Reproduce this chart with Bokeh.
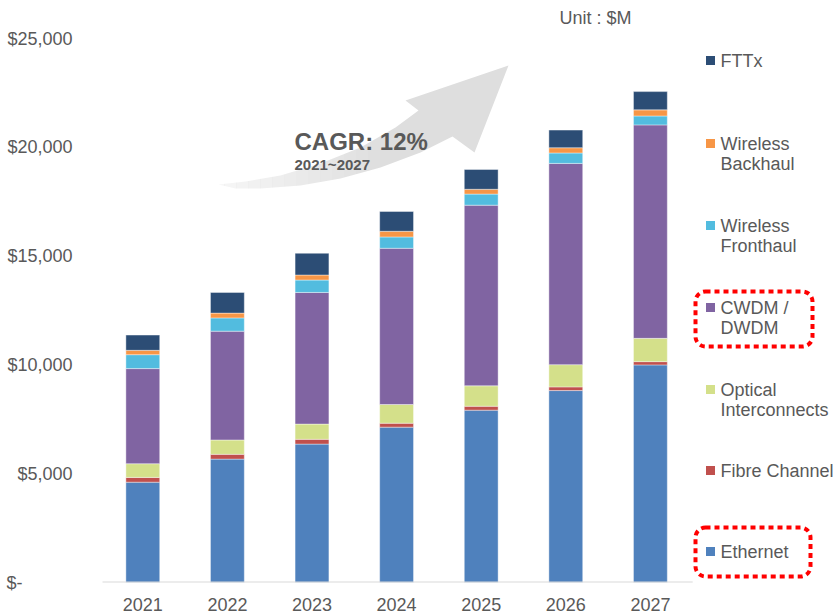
from bokeh.plotting import figure
from bokeh.models import ColumnDataSource, Range1d, FixedTicker, BoxAnnotation
from bokeh.core.properties import value
from bokeh.embed import file_html
from bokeh.resources import INLINE

# ---------------- data ----------------
years = [2021, 2022, 2023, 2024, 2025, 2026, 2027]
x_labels = ["2021", "2022", "2023", "2024", "2025", "2026", "2027"]
ethernet = [4610, 5670, 6360, 7140, 7920, 8820, 10000]
fibre_channel = [220, 220, 220, 180, 180, 170, 150]
optical_interconnects = [630, 660, 700, 860, 940, 1020, 1070]
cwdm_dwdm = [4370, 5000, 6050, 7180, 8300, 9250, 9810]
wireless_fronthaul = [640, 610, 570, 520, 510, 480, 410]
wireless_backhaul = [200, 220, 230, 260, 220, 240, 280]
fttx = [700, 950, 1000, 910, 910, 810, 840]

series_keys = ["ethernet", "fibre", "optical", "cwdm", "fronthaul", "backhaul", "fttx"]
series_colors = ["#4f81bd", "#c0504d", "#d4e08a", "#8064a2", "#52bcdf", "#f79646", "#2c4d75"]

legend_labels = [["FTTx"], ["Wireless", "Backhaul"], ["Wireless", "Fronthaul"],
                 ["CWDM /", "DWDM"], ["Optical", "Interconnects"], ["Fibre Channel"], ["Ethernet"]]
legend_colors = ["#2c4d75", "#f79646", "#52bcdf", "#8064a2", "#d4e08a", "#c0504d", "#4f81bd"]

y_ticks = [0, 5000, 10000, 15000, 20000, 25000]
y_tick_labels = ["$-" + "\u00a0" * 10, "$5,000", "$10,000", "$15,000", "$20,000", "$25,000"]

unit_text = "Unit : $M"
cagr_text = "CAGR: 12%"
cagr_period = "2021~2027"

# ---------------- layout helpers (screen px -> data) ----------------
PX_YEAR = 84.6
PX_K = 21.76
def X(sx):
    return years[0] - 0.5 + (sx - 100) / PX_YEAR
def Y(sy):
    return (582 - sy) * 1000.0 / PX_K

FONT = "Liberation Sans"
GRAY = "#595959"

p = figure(width=838, height=614, output_backend="svg", toolbar_location=None,
           x_range=Range1d(X(100), X(838)), y_range=Range1d(0, Y(0)),
           min_border_left=102, min_border_right=0, min_border_top=0, min_border_bottom=32)
p.x_range = Range1d(X(102), X(838))
p.outline_line_color = None
p.xgrid.grid_line_color = None
p.ygrid.grid_line_color = None
p.background_fill_color = "white"
p.border_fill_color = "white"

# axes
p.yaxis.ticker = FixedTicker(ticks=y_ticks)
p.yaxis.major_label_overrides = dict(zip(y_ticks, y_tick_labels))
p.yaxis.axis_line_color = None
p.yaxis.major_tick_line_color = None
p.yaxis.minor_tick_line_color = None
p.yaxis.major_label_standoff = 24
p.yaxis.major_label_text_font = FONT
p.yaxis.major_label_text_font_size = "18px"
p.yaxis.major_label_text_color = GRAY

p.xaxis.ticker = FixedTicker(ticks=years)
p.xaxis.major_label_overrides = dict(zip(years, x_labels))
p.xaxis.axis_line_color = None
p.xaxis.major_tick_line_color = None
p.xaxis.minor_tick_line_color = None
p.xaxis.major_label_standoff = 9
p.xaxis.major_label_text_font = FONT
p.xaxis.major_label_text_font_size = "18px"
p.xaxis.major_label_text_color = GRAY

# arrow (decorative swoosh)
arrow_pts = [(218, 184), (245, 181), (280, 175), (320, 163), (360, 147), (395, 127), (418, 110),
             (405, 100), (508, 65), (474, 152), (452, 136), (420, 152), (380, 167), (340, 178),
             (300, 185), (260, 188), (235, 188)]
p.patch([X(a) for a, b in arrow_pts], [Y(b) for a, b in arrow_pts],
        fill_color="#dedede", line_color=None)
# fade toward the tail (white veils over the swoosh only)
n_steps = 14
for i in range(n_steps):
    x0 = 212 + i * 12
    a = 0.75 * (1 - i / n_steps)
    p.quad(left=[X(x0)], right=[X(x0 + 12)], top=[Y(60)], bottom=[Y(192)],
           fill_color="white", fill_alpha=a, line_color=None)

# bars
src = ColumnDataSource(dict(x=years, ethernet=ethernet, fibre=fibre_channel,
                            optical=optical_interconnects, cwdm=cwdm_dwdm,
                            fronthaul=wireless_fronthaul, backhaul=wireless_backhaul, fttx=fttx))
p.vbar_stack(series_keys, x="x", width=0.4, color=series_colors, source=src,
             line_color="white", line_width=0.8, line_alpha=0.5)

# baseline
p.segment(x0=[years[0] - 0.5], y0=[0], x1=[years[-1] + 0.5], y1=[0],
          line_color="#d9d9d9", line_width=2)

# texts
p.text(x=[X(294)], y=[Y(141)], text=[cagr_text], text_font=value(FONT), text_font_size="24px",
       text_font_style="bold", text_color=GRAY, text_baseline="middle", text_align="left")
p.text(x=[X(294)], y=[Y(164)], text=[cagr_period], text_font=value(FONT), text_font_size="15px",
       text_font_style="bold", text_color=GRAY, text_baseline="middle", text_align="left")
p.text(x=[X(559)], y=[Y(17)], text=[unit_text], text_font=value(FONT), text_font_size="18px",
       text_color=GRAY, text_baseline="middle", text_align="left")

# legend (manual)
legend_y = [60, 143, 225, 307, 389, 470, 551]
lx, ly, lt = [], [], []
for lines, sy in zip(legend_labels, legend_y):
    for i, line in enumerate(lines):
        lx.append(X(720))
        ly.append(Y(sy + 20 * i))
        lt.append(line)
p.text(x=lx, y=ly, text=lt, text_font=value(FONT), text_font_size="18px",
       text_color=GRAY, text_baseline="middle", text_align="left")
p.scatter(x=[X(710)] * len(legend_y), y=[Y(s) for s in legend_y], marker="square", size=9,
          color=legend_colors, line_color=None)

# red dotted highlight boxes
for (l, r, t, b) in [(695, 812, 291, 346), (695, 810, 527, 576)]:
    p.add_layout(BoxAnnotation(left=X(l), right=X(r), top=Y(t), bottom=Y(b),
                               fill_alpha=0, line_color="#ff0000", line_alpha=1.0, line_width=4,
                               line_dash="5 4", border_radius=10))

open("out.html", "w").write(file_html(p, INLINE))
